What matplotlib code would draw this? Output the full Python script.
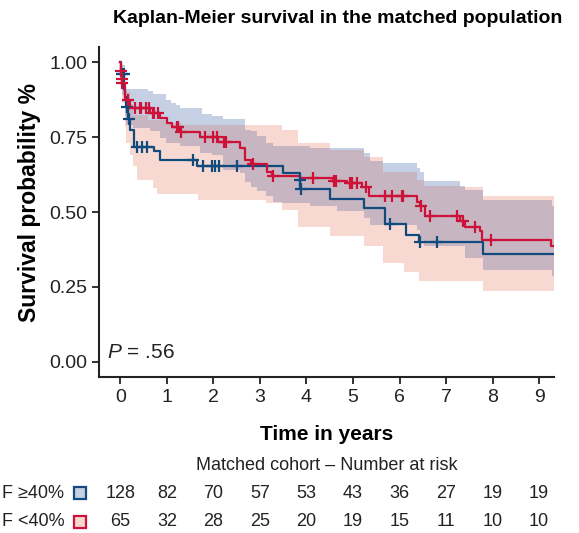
import numpy as np
import matplotlib
matplotlib.use("Agg")
import matplotlib.pyplot as plt
import matplotlib.transforms as mtrans

plt.rcParams['font.family'] = ['Liberation Sans', 'DejaVu Sans']
plt.rcParams['mathtext.fontset'] = 'custom'
plt.rcParams['mathtext.it'] = 'Liberation Sans:italic'
plt.rcParams['mathtext.rm'] = 'Liberation Sans'

# F >=40% (navy line)
hi_t = [0, 0.02, 0.08, 0.10, 0.13, 0.16, 0.20, 0.30, 0.72, 0.86, 1.65, 3.49, 3.85, 3.87,
        4.51, 5.24, 5.69, 6.14, 6.42, 7.80, 9.32]
hi_s = [1.0, 0.96, 0.91, 0.885, 0.85, 0.81, 0.775, 0.718, 0.702, 0.674, 0.652, 0.63, 0.608,
        0.577, 0.544, 0.515, 0.461, 0.424, 0.399, 0.361, 0.361]
hi_cens = [0.04, 0.07, 0.15, 0.19, 0.36, 0.46, 0.58, 1.57, 1.78, 1.97, 2.04, 2.11, 2.5,
           3.86, 3.88, 5.80, 6.45, 6.81]

# F <40% (red line)
lo_t = [0, 0.01, 0.025, 0.035, 0.10, 0.20, 0.63, 0.85, 1.0, 1.1, 1.26, 1.71, 2.1, 2.57,
        2.68, 2.8, 3.15, 3.25, 3.85, 4.58, 4.87, 5.2, 5.35, 6.37, 6.45, 6.55, 7.3, 7.41,
        7.73, 7.78, 9.25, 9.32]
lo_s = [1.0, 0.969, 0.945, 0.93, 0.874, 0.847, 0.83, 0.813, 0.797, 0.782, 0.767, 0.749,
        0.735, 0.713, 0.674, 0.661, 0.632, 0.621, 0.613, 0.602, 0.597, 0.585, 0.554, 0.535,
        0.519, 0.488, 0.469, 0.45, 0.436, 0.408, 0.385, 0.385]
lo_cens = [0.015, 0.03, 0.04, 0.16, 0.31, 0.42, 0.45, 0.56, 0.61, 0.70, 0.73, 0.80, 1.21,
           1.24, 1.31, 1.82, 2.0, 2.07, 2.22, 2.26, 2.86, 3.29, 4.15, 4.6, 4.64, 4.94, 4.98,
           5.08, 5.27, 5.69, 5.83, 6.05, 6.08, 6.47, 6.66, 7.23, 7.37, 7.62, 7.96]

# light blue band
blue_t = [0, 0.04, 0.10, 0.13, 0.27, 0.60, 0.64, 0.71, 0.85, 0.99, 1.09, 1.20, 1.28, 1.71,
          1.75, 1.96, 2.21, 2.57, 2.68, 2.80, 2.93, 3.14, 3.29, 3.47, 4.07, 4.65, 5.23,
          5.36, 5.64, 6.37, 6.45, 6.53, 7.30, 7.40, 7.80, 9.28, 9.32]
blue_lo = [0.94, 0.89, 0.82, 0.79, 0.78, 0.78, 0.769, 0.769, 0.747, 0.73, 0.73, 0.73, 0.719,
           0.697, 0.697, 0.69, 0.641, 0.63, 0.60, 0.585, 0.569, 0.552, 0.535, 0.53, 0.519,
           0.505, 0.48, 0.458, 0.458, 0.441, 0.408, 0.385, 0.385, 0.347, 0.308, 0.285, 0.285]
blue_hi = [1.0, 0.99, 0.93, 0.91, 0.91, 0.902, 0.902, 0.893, 0.893, 0.872, 0.865, 0.858,
           0.847, 0.847, 0.828, 0.819, 0.81, 0.81, 0.775, 0.769, 0.752, 0.73, 0.721, 0.721,
           0.715, 0.715, 0.697, 0.669, 0.663, 0.647, 0.635, 0.605, 0.588, 0.574, 0.539,
           0.519, 0.519]

# light pink band
pink_t = [0, 0.03, 0.10, 0.13, 0.20, 0.28, 0.35, 0.60, 0.71, 0.78, 1.0, 1.3, 1.67, 3.14,
          3.47, 3.82, 4.5, 5.23, 5.64, 6.1, 6.37, 6.42, 6.53, 7.3, 7.8, 9.32]
pink_lo = [0.95, 0.863, 0.785, 0.73, 0.69, 0.652, 0.608, 0.608, 0.58, 0.561, 0.561, 0.561,
           0.541, 0.53, 0.508, 0.45, 0.419, 0.388, 0.33, 0.30, 0.30, 0.269, 0.269, 0.269,
           0.235, 0.235]
pink_hi = [1.0, 0.97, 0.93, 0.90, 0.86, 0.824, 0.824, 0.808, 0.808, 0.808, 0.797, 0.791,
           0.791, 0.791, 0.772, 0.73, 0.708, 0.685, 0.635, 0.635, 0.608, 0.608, 0.588, 0.583,
           0.554, 0.554]

risk_times = [0, 1, 2, 3, 4, 5, 6, 7, 8, 9]
risk_hi = [128, 82, 70, 57, 53, 43, 36, 27, 19, 19]
risk_lo = [65, 32, 28, 25, 20, 19, 15, 11, 10, 10]

navy = '#104a7e'
red = '#cc1239'
c_blue = '#c6d0e4'
c_pink = '#f7d9d1'
c_both = '#c7b5c1'


def step_at(t, v, x):
    idx = np.searchsorted(t, x, side='right') - 1
    return np.asarray(v)[np.clip(idx, 0, len(v) - 1)]


fig = plt.figure(figsize=(5.79, 5.33), dpi=100)
ax = fig.add_axes([0.171, 0.2927, 0.7858, 0.6191])

# bands
ax.fill_between(blue_t, blue_lo, blue_hi, step='post', color=c_blue, lw=0)
ax.fill_between(pink_t, pink_lo, pink_hi, step='post', color=c_pink, lw=0)
grid = np.unique(np.concatenate([blue_t, pink_t]))
ov_lo = np.maximum(step_at(blue_t, blue_lo, grid), step_at(pink_t, pink_lo, grid))
ov_hi = np.minimum(step_at(blue_t, blue_hi, grid), step_at(pink_t, pink_hi, grid))
ov_hi = np.maximum(ov_hi, ov_lo)
ax.fill_between(grid, ov_lo, ov_hi, step='post', color=c_both, lw=0)

# curves
ax.step(hi_t, hi_s, where='post', color=navy, lw=1.6)
ax.step(lo_t, lo_s, where='post', color=red, lw=1.6)
ax.plot(hi_cens, step_at(hi_t, hi_s, hi_cens), ls='none', marker='+', ms=9, mew=1.6, color=navy)
ax.plot(lo_cens, step_at(lo_t, lo_s, lo_cens), ls='none', marker='+', ms=9, mew=1.6, color=red)

ax.set_xlim(-0.46, 9.32)
ax.set_ylim(-0.05, 1.05)
ax.set_xticks(range(10))
ax.set_yticks([0, 0.25, 0.5, 0.75, 1.0])
ax.set_yticklabels(['0.00', '0.25', '0.50', '0.75', '1.00'])
for s in ['top', 'right']:
    ax.spines[s].set_visible(False)
for s in ['left', 'bottom']:
    ax.spines[s].set_linewidth(1.5)
    ax.spines[s].set_color('#222222')
ax.tick_params(labelsize=14, length=5, width=1.3, color='#222222', labelcolor='#222222')
ax.set_xlabel('Time in years', fontsize=15, fontweight='bold', labelpad=14)
ax.set_ylabel('Survival probability %', fontsize=16.5, fontweight='bold')
ax.yaxis.set_label_coords(-0.127, 0.53)
ax.text(-0.28, 0.032, r'$\it{P}$ = .56', fontsize=15, va='center', color='#222222')

fig.text(0.584, 0.966, 'Kaplan-Meier survival in the matched population',
         ha='center', va='center', fontsize=14, fontweight='bold')

# number at risk table
tr = mtrans.blended_transform_factory(ax.transData, fig.transFigure)
tra = mtrans.blended_transform_factory(ax.transAxes, fig.transFigure)
fig.text(0.5, 1 - 465 / 533, 'Matched cohort \u2013 Number at risk', transform=tra,
         ha='center', va='center', fontsize=13, color='#222222')
rows = [(1 - 493 / 533, 'F \u226540%', risk_hi, navy, c_blue),
        (1 - 522 / 533, 'F <40%', risk_lo, red, c_pink)]
for y, lab, vals, ec, fc in rows:
    fig.text(2 / 579, y, lab, ha='left', va='center', fontsize=13, color='#222222')
    fig.lines.append(plt.Line2D([-0.87], [y], transform=tr, marker='s', ms=9, mfc=fc,
                                mec=ec, mew=1.6, ls='none'))
    for t, v in zip(risk_times, vals):
        fig.text(t, y, str(v), transform=tr, ha='center', va='center', fontsize=13,
                 color='#222222')

fig.savefig('out.png', dpi=100)
